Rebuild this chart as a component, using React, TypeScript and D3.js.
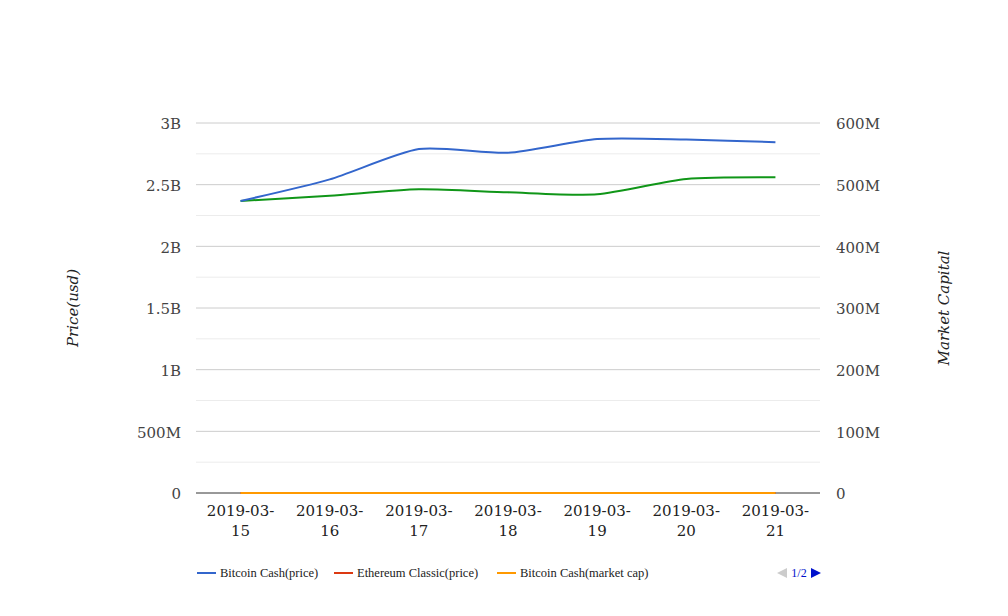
import React from "react";
import * as d3 from "d3";

const dates = ["2019-03-15", "2019-03-16", "2019-03-17", "2019-03-18", "2019-03-19", "2019-03-20", "2019-03-21"];
const btcPrice = [2.368e9, 2.543e9, 2.789e9, 2.759e9, 2.87e9, 2.866e9, 2.844e9];
const etcPrice = [3.9, 4.1, 4.3, 4.2, 4.2, 4.3, 4.3];
const btcCap = [0, 0, 0, 0, 0, 0, 0];
const etcCap = [473.5e6, 482.1e6, 492.5e6, 487.6e6, 484.4e6, 509.2e6, 512e6];
const leftTicks = [0, 0.5e9, 1e9, 1.5e9, 2e9, 2.5e9, 3e9];
const leftTickLabels = ["0", "500M", "1B", "1.5B", "2B", "2.5B", "3B"];
const rightTicks = [0, 100e6, 200e6, 300e6, 400e6, 500e6, 600e6];
const rightTickLabels = ["0", "100M", "200M", "300M", "400M", "500M", "600M"];
const minorTicks = [0.25e9, 0.75e9, 1.25e9, 1.75e9, 2.25e9, 2.75e9];
const legendItems = [
  { name: "Bitcoin Cash(price)", color: "#3366cc" },
  { name: "Ethereum Classic(price)", color: "#dc3912" },
  { name: "Bitcoin Cash(market cap)", color: "#ff9900" },
];

const W = 1008, H = 616;
const L = 196, R = 820, T = 123, B = 493;
const FONT = "'DejaVu Serif', serif";
const LFONT = "'Liberation Serif', 'Times New Roman', serif";

export default function App() {
  const x = d3.scaleBand<string>().domain(dates).range([L, R]);
  const cx = (d: string) => (x(d) as number) + x.bandwidth() / 2;
  const yL = d3.scaleLinear().domain([0, 3e9]).range([B, T]);
  const yR = d3.scaleLinear().domain([0, 600e6]).range([B, T]);
  const curve = d3.curveCardinal.tension(0.3);
  const lineL = d3.line<number>().x((_, i) => cx(dates[i])).y((v) => yL(v)).curve(curve);
  const lineR = d3.line<number>().x((_, i) => cx(dates[i])).y((v) => yR(v)).curve(curve);

  const legendX = [197, 334, 497];

  return (
    <svg width={W} height={H} style={{ position: "absolute", left: 0, top: 0, background: "#fff" }}>
      {minorTicks.map((t) => (
        <line key={"m" + t} x1={L} x2={R} y1={yL(t)} y2={yL(t)} stroke="#ececec" strokeWidth={1} />
      ))}
      {leftTicks.map((t) =>
        t === 0 ? null : (
          <line key={"g" + t} x1={L} x2={R} y1={yL(t)} y2={yL(t)} stroke="#cccccc" strokeWidth={1} />
        )
      )}
      {leftTicks.map((t, i) => (
        <text key={"l" + t} x={181} y={yL(t) + 1} dy="0.35em" textAnchor="end" fontFamily={FONT} fontSize={15} fill="#444">
          {leftTickLabels[i]}
        </text>
      ))}
      {rightTicks.map((t, i) => (
        <text key={"r" + t} x={836} y={yR(t) + 1} dy="0.35em" textAnchor="start" fontFamily={FONT} fontSize={15} fill="#444">
          {rightTickLabels[i]}
        </text>
      ))}
      {dates.map((d) => (
        <text key={d} x={cx(d)} y={516} textAnchor="middle" fontFamily={FONT} fontSize={15} fill="#222">
          <tspan x={cx(d)}>{d.slice(0, 8)}</tspan>
          <tspan x={cx(d)} dy={20}>{d.slice(8)}</tspan>
        </text>
      ))}
      <text transform="translate(78,308) rotate(-90)" textAnchor="middle" fontFamily={FONT} fontStyle="italic" fontSize={15} fill="#222">
        Price(usd)
      </text>
      <text transform="translate(949,308) rotate(-90)" textAnchor="middle" fontFamily={FONT} fontStyle="italic" fontSize={15} fill="#222">
        Market Capital
      </text>
      <path d={lineR(etcCap) || ""} fill="none" stroke="#109618" strokeWidth={2} />
      <path d={lineL(btcPrice) || ""} fill="none" stroke="#3366cc" strokeWidth={2} />
      <line x1={L} x2={R} y1={B} y2={B} stroke="#333" strokeWidth={1} />
      <path d={lineL(etcPrice) || ""} fill="none" stroke="#dc3912" strokeWidth={2} />
      <path d={lineR(btcCap) || ""} fill="none" stroke="#ff9900" strokeWidth={2} />
      {legendItems.map((it, i) => (
        <g key={it.name}>
          <line x1={legendX[i]} x2={legendX[i] + 19} y1={573} y2={573} stroke={it.color} strokeWidth={2} />
          <text x={legendX[i] + 23} y={573} dy="0.35em" fontFamily={LFONT} fontSize={12.5} fill="#222">
            {it.name}
          </text>
        </g>
      ))}
      <path d="M777,573 L787,568 L787,578 Z" fill="#cccccc" />
      <text x={799} y={573} dy="0.35em" textAnchor="middle" fontFamily={LFONT} fontSize={12} fill="#0011cc">
        1/2
      </text>
      <path d="M811,568 L821,573 L811,578 Z" fill="#0011cc" />
    </svg>
  );
}
